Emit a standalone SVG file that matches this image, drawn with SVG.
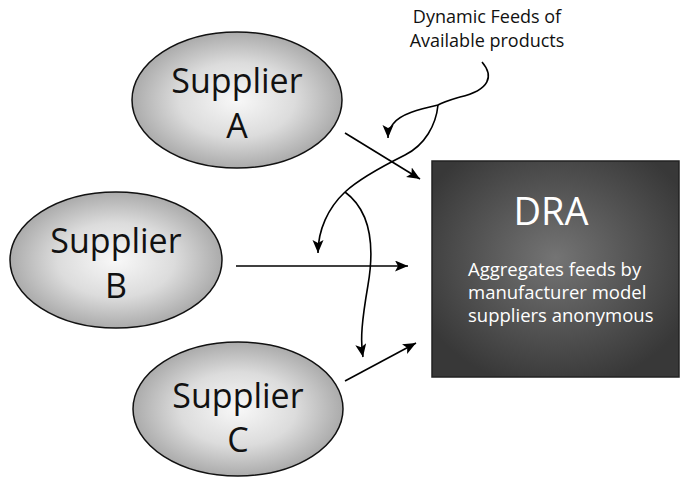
<svg xmlns="http://www.w3.org/2000/svg" width="680" height="483" viewBox="0 0 680 483">
<defs>
<radialGradient id="gEll" cx="50%" cy="50%" r="50%">
<stop offset="0" stop-color="#f8f8f8"/>
<stop offset="0.55" stop-color="#dcdcdc"/>
<stop offset="1" stop-color="#ababab"/>
</radialGradient>
<radialGradient id="gBox" cx="50%" cy="45%" r="60%">
<stop offset="0" stop-color="#747474"/>
<stop offset="1" stop-color="#383838"/>
</radialGradient>
<marker id="ah" markerUnits="userSpaceOnUse" markerWidth="14" markerHeight="12" refX="13" refY="5.5" orient="auto">
<path d="M0,0 L13,5.5 L0,11 L3,5.5 z" fill="#000"/>
</marker>
<style>
.ell{fill:url(#gEll);stroke:#111;stroke-width:1.5}
.sup{font-family:"Open Sans","Noto Sans",sans-serif;font-size:34px;fill:#111;text-anchor:middle}
.lbl{font-family:"Open Sans","Noto Sans",sans-serif;font-size:18px;fill:#111;text-anchor:middle}
.con{fill:none;stroke:#000;stroke-width:1.6;marker-end:url(#ah)}
.con2{fill:none;stroke:#000;stroke-width:1.6}
.wt{font-family:"Open Sans","Noto Sans",sans-serif;fill:#fff}
</style>
</defs>
<rect width="680" height="483" fill="#fff"/>
<g id="supplierA">
<ellipse class="ell" cx="237" cy="100" rx="105" ry="68"/>
<text class="sup" x="237" y="93">Supplier</text>
<text class="sup" x="237" y="138">A</text>
</g>
<g id="supplierB">
<ellipse class="ell" cx="116" cy="260" rx="106" ry="68"/>
<text class="sup" x="116" y="253">Supplier</text>
<text class="sup" x="116" y="298">B</text>
</g>
<g id="supplierC">
<ellipse class="ell" cx="238" cy="409" rx="105" ry="67"/>
<text class="sup" x="238" y="408">Supplier</text>
<text class="sup" x="238" y="452">C</text>
</g>
<g id="dra">
<rect x="432" y="161" width="247" height="216" fill="url(#gBox)" stroke="#222" stroke-width="1.5"/>
<text class="wt" x="551" y="225" font-size="38" text-anchor="middle">DRA</text>
<text class="wt" x="468" y="276" font-size="18.5">Aggregates feeds by</text>
<text class="wt" x="468" y="299" font-size="18.5">manufacturer model</text>
<text class="wt" x="468" y="322" font-size="18.5">suppliers anonymous</text>
</g>
<g id="feedLabel">
<text class="lbl" x="487" y="23">Dynamic Feeds of</text>
<text class="lbl" x="487" y="47">Available products</text>
</g>
<g id="connectors">
<path class="con" d="M345,133 L420,179"/>
<path class="con" d="M236,266 L408,266"/>
<path class="con" d="M345,381 L416,343"/>
<path class="con2" d="M482,62 C494,76 490,90 460,97 C450,100 443,102 438,105"/>
<path class="con" d="M438,105 C420,109 400,114 393,124 C390,128 388,132 388,138"/>
<path class="con2" d="M438,105 C436,125 425,145 405,155 C385,165 360,178 345,192"/>
<path class="con" d="M345,192 C328,208 318,230 318,253"/>
<path class="con" d="M345,192 C372,212 374,250 368,285 C362,320 360,340 363,357"/>
</g>
</svg>
